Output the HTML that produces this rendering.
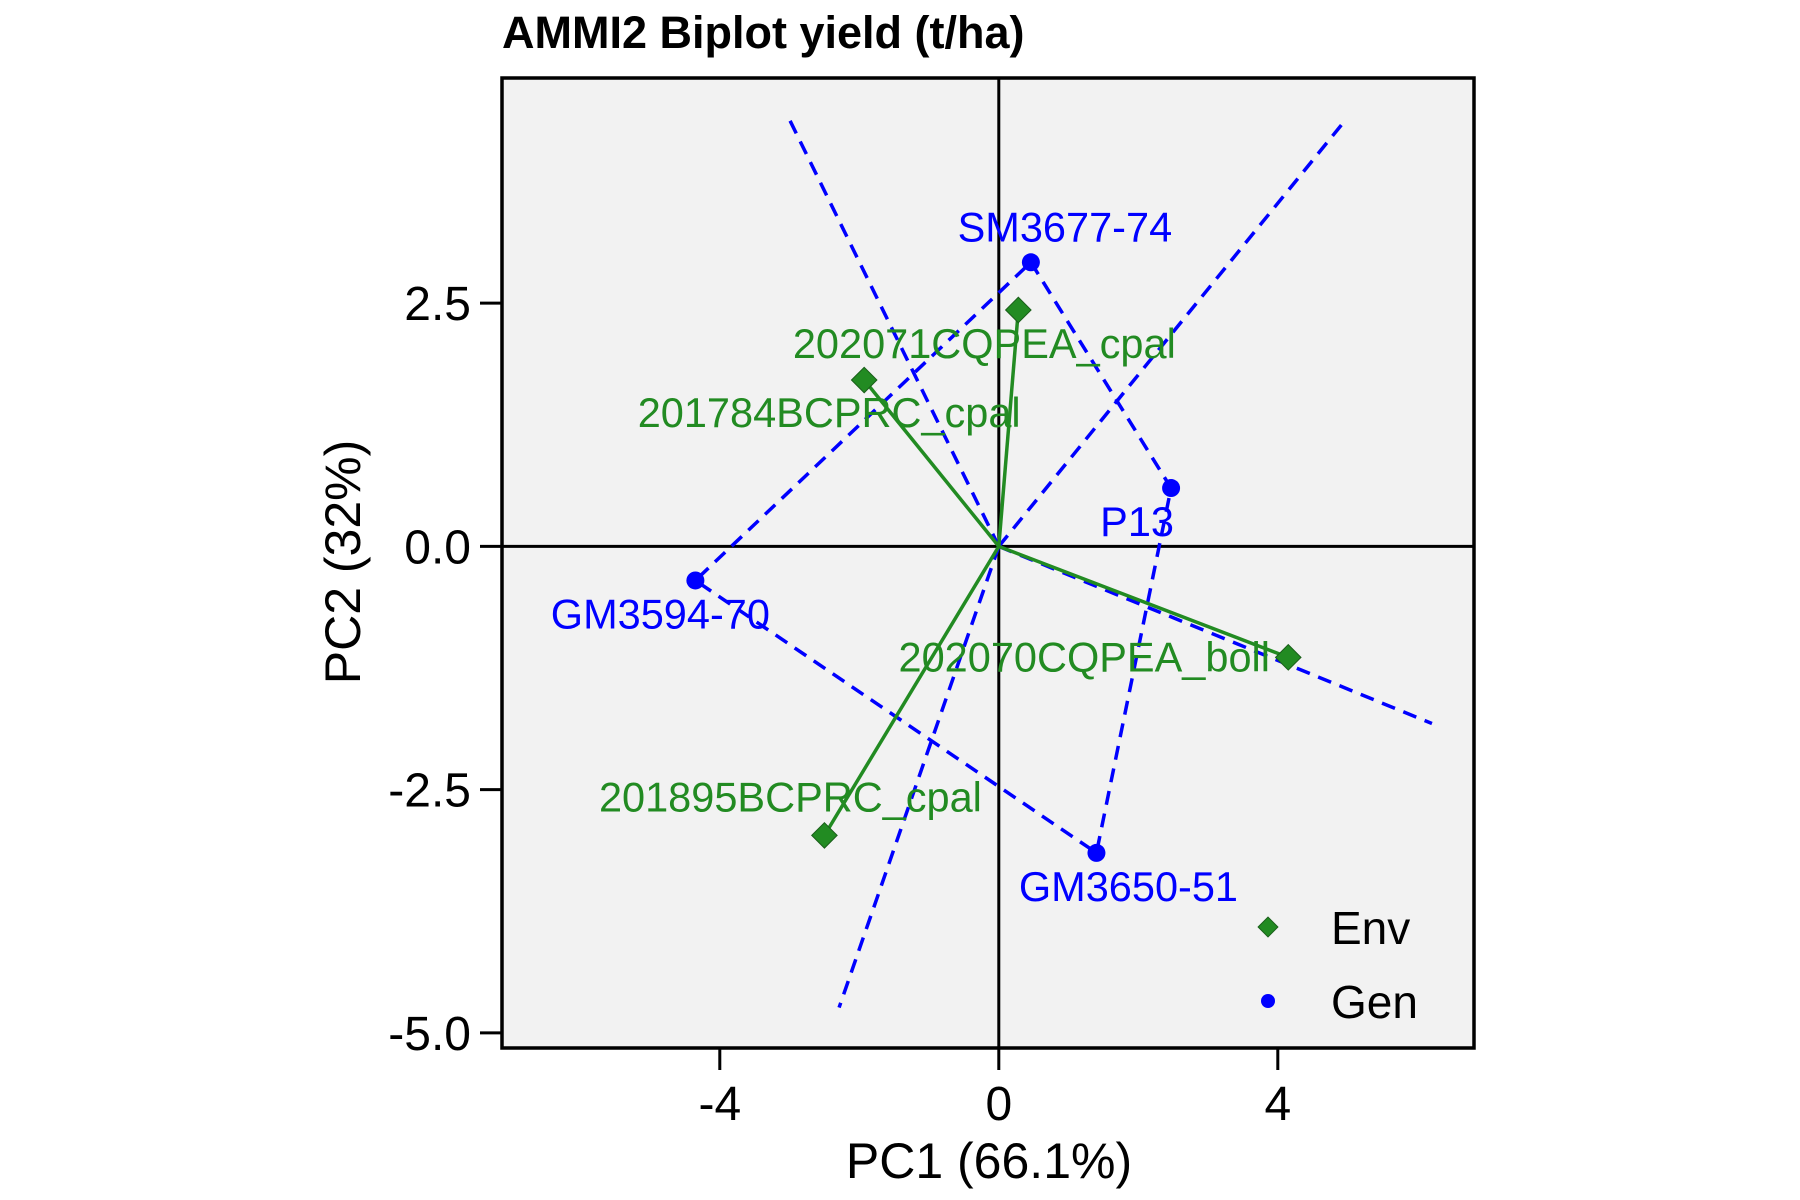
<!DOCTYPE html>
<html><head><meta charset="utf-8"><style>
html,body{margin:0;padding:0;background:#fff;}
svg{display:block;font-family:"Liberation Sans",Arial,sans-serif;}
</style></head><body>
<svg id="chart" width="1800" height="1200" viewBox="0 0 1800 1200">
<text x="502" y="48" font-size="45" font-weight="bold">AMMI2 Biplot yield (t/ha)</text>
<rect x="502" y="78" width="972" height="970" fill="#f2f2f2"/>
<g id="layer"></g>
<rect x="502" y="78" width="972" height="970" fill="none" stroke="#000" stroke-width="3.5"/>
<text x="989" y="1178" font-size="50" text-anchor="middle">PC1 (66.1%)</text>
<text transform="translate(360,562) rotate(-90)" font-size="50" text-anchor="middle">PC2 (32%)</text>
<g>
<rect x="1261" y="920" width="14" height="14" transform="rotate(45 1268 927)" fill="#228b22" stroke="#1a5e1a" stroke-width="1"/>
<text x="1331" y="944" font-size="46">Env</text>
<circle cx="1268" cy="1001" r="7" fill="#0000ff"/>
<text x="1331" y="1018" font-size="46">Gen</text>
</g>
</svg>
<script>
const envNames = ["202071CQPEA_cpal","201784BCPRC_cpal","202070CQPEA_boll","201895BCPRC_cpal"];
const envPC1 = [0.28,-1.93,4.15,-2.50];
const envPC2 = [2.43,1.71,-1.14,-2.97];
const genNames = ["SM3677-74","P13","GM3650-51","GM3594-70"];
const genPC1 = [0.46,2.47,1.40,-4.35];
const genPC2 = [2.92,0.60,-3.15,-0.35];
const rayPC1 = [-3.01,4.99,6.21,-2.29];
const rayPC2 = [4.40,4.40,-1.82,-4.74];
const xTicks = [-4,0,4];
const yTicks = [-5.0,-2.5,0.0,2.5];
const yTickLabels = ["-5.0","-2.5","0.0","2.5"];

const X0=998.8, XS=69.75, Y0=546.4, YS=97.3;
const L=502,R=1474,T=78,B=1048;
function sx(v){return X0+v*XS;}
function sy(v){return Y0-v*YS;}
const NS="http://www.w3.org/2000/svg";
const svg=document.getElementById('chart');
const layer=document.getElementById('layer');
function mk(tag,attrs,parent){const e=document.createElementNS(NS,tag);for(const k in attrs)e.setAttribute(k,attrs[k]);(parent||layer).appendChild(e);return e;}

let e=mk('line',{x1:sx(0),x2:sx(0),y1:T,y2:B,stroke:'#000','stroke-width':3});


e=mk('line',{x1:L,x2:R,y1:sy(0),y2:sy(0),stroke:'#000','stroke-width':3});



let pts=genPC1.map((v,i)=>sx(v)+','+sy(genPC2[i])).join(' ');
e=mk('polygon',{points:pts,fill:'none',stroke:'#0000ff','stroke-width':3.5,'stroke-dasharray':'14,9'});


rayPC1.forEach((v,i)=>{
 const r=mk('line',{x1:sx(0),y1:sy(0),x2:sx(v),y2:sy(rayPC2[i]),stroke:'#0000ff','stroke-width':3.5,'stroke-dasharray':'14,9'});
 
 
});
envPC1.forEach((v,i)=>{
 const l=mk('line',{x1:sx(0),y1:sy(0),x2:sx(v),y2:sy(envPC2[i]),stroke:'#228b22','stroke-width':3.5});
 
 
});
envPC1.forEach((v,i)=>{
 const cx=sx(v),cy=sy(envPC2[i]);
 const d=mk('rect',{x:cx-9,y:cy-9,width:18,height:18,transform:`rotate(45 ${cx} ${cy})`,fill:'#228b22',stroke:'#1a5e1a','stroke-width':1});
 
 
});
genPC1.forEach((v,i)=>{
 const c=mk('circle',{cx:sx(v),cy:sy(genPC2[i]),r:9,fill:'#0000ff'});
 
 
});
const envOff=[[-34,37],[-35,36],[-204,3],[-34,-35]];
const genOff=[[34,-32],[-34,37],[32,37],[-35,37]];
envNames.forEach((n,i)=>{
 const t=mk('text',{x:sx(envPC1[i])+envOff[i][0],y:sy(envPC2[i])+envOff[i][1],'font-size':41.5,'text-anchor':'middle','dominant-baseline':'middle',fill:'#228b22'});
 t.textContent=n;
 
 
});
genNames.forEach((n,i)=>{
 const t=mk('text',{x:sx(genPC1[i])+genOff[i][0],y:sy(genPC2[i])+genOff[i][1],'font-size':41.5,'text-anchor':'middle','dominant-baseline':'middle',fill:'#0000ff'});
 t.textContent=n;
 
 
});
xTicks.forEach(v=>{
 const t=mk('line',{x1:sx(v),x2:sx(v),y1:B,y2:B+22,stroke:'#000','stroke-width':3},svg);
 
 
 const l=mk('text',{x:sx(v),y:1120,'font-size':48,'text-anchor':'middle'},svg);
 l.textContent=String(v);
 
 
});
yTicks.forEach((v,i)=>{
 const t=mk('line',{x1:L-22,x2:L,y1:sy(v),y2:sy(v),stroke:'#000','stroke-width':3},svg);
 
 
 const l=mk('text',{x:471,y:sy(v)+17,'font-size':48,'text-anchor':'end'},svg);
 l.textContent=yTickLabels[i];
 
 
});
</script>
</body></html>
